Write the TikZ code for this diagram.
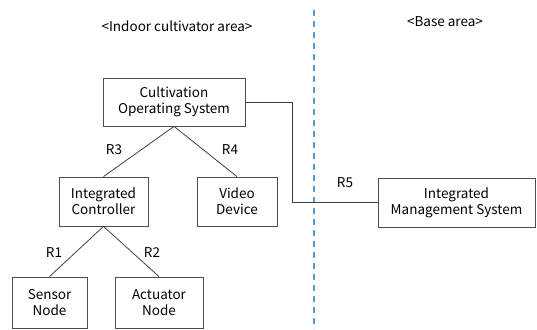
\documentclass[tikz,border=0pt]{standalone}
\usepackage{fontspec}
\setmainfont{Noto Sans CJK KR}
\begin{document}
\begin{tikzpicture}[x=1pt,y=-1pt,
  box/.style={draw=black!70,line width=0.8pt,align=center,inner sep=0pt,font=\fontsize{13.5}{16}\selectfont},
  lbl/.style={font=\fontsize{13.5}{16}\selectfont,inner sep=0pt},
  conn/.style={draw=black!75,line width=0.8pt}]
\useasboundingbox (0,0) rectangle (537,329);
\definecolor{dashblue}{HTML}{5B9BD5}
\draw[dashblue,line width=1.2pt,dash pattern=on 6pt off 5pt] (314,10) -- (314,329);
\node[lbl] (t1) at (177,26) {<Indoor cultivator area>};
\node[lbl] (t2) at (445,22) {<Base area>};
\node[box,minimum width=142pt,minimum height=48pt] (cos) at (174,102) {Cultivation\\Operating System};
\node[box,minimum width=89pt,minimum height=49pt] (ic) at (103.5,201.5) {Integrated\\Controller};
\node[box,minimum width=80pt,minimum height=49pt] (vd) at (237,201.5) {Video\\Device};
\node[box,minimum width=75pt,minimum height=51pt] (sn) at (49.5,302.5) {Sensor\\Node};
\node[box,minimum width=88pt,minimum height=51pt] (an) at (159,302.5) {Actuator\\Node};
\node[box,minimum width=157pt,minimum height=49pt] (ims) at (456.5,202.5) {Integrated\\Management System};
\coordinate (c1) at (292,102);
\coordinate (c2) at (292,202);
\draw[conn] (cos.south) -- (ic.north);
\draw[conn] (cos.south) -- (vd.north);
\draw[conn] (ic.south) -- (sn.north);
\draw[conn] (ic.south) -- (an.north);
\draw[conn] (cos.east |- c1) -- (c1) -- (c2) -- (ims.west |- c2);
\node[lbl] (r3) at (114,150) {R3};
\node[lbl] (r4) at (230,150) {R4};
\node[lbl] (r1) at (54,253) {R1};
\node[lbl] (r2) at (152,253) {R2};
\node[lbl] (r5) at (345,183) {R5};
\end{tikzpicture}
\end{document}
